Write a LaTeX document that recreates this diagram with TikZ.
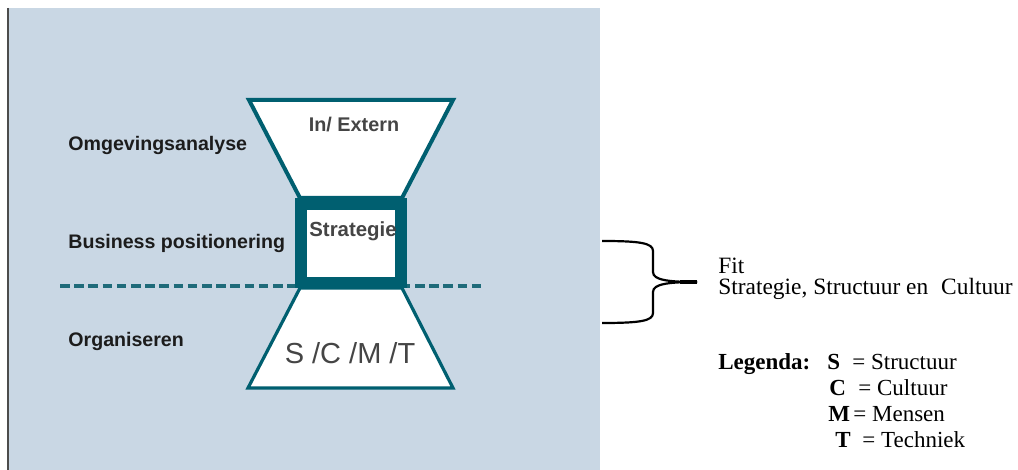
\documentclass[tikz,border=0pt]{standalone}
\usepackage{fontspec}
\setmainfont{Liberation Serif}
\newfontfamily\arialfont{Liberation Sans}
\definecolor{panelbg}{HTML}{C9D7E4}
\definecolor{tealA}{HTML}{005F70}
\definecolor{dashteal}{HTML}{1F6B7A}
\definecolor{txtgray}{HTML}{454545}
\definecolor{lbl}{HTML}{1C1C1C}
\begin{document}
\begin{tikzpicture}[x=0.5pt,y=-0.5pt,
  lefttxt/.style={anchor=west,inner sep=0pt,text=lbl,font=\arialfont\bfseries\fontsize{9.8}{11}\selectfont},
  shapetxt/.style={inner sep=0pt,text=txtgray,font=\arialfont\bfseries\fontsize{9.9}{11}\selectfont},
  serif/.style={anchor=base west,inner sep=0pt,font=\fontsize{11.7}{13}\selectfont},
  trap/.style={draw=tealA,fill=white,line join=miter},
  bracestyle/.style={draw=black,line width=1.1pt},
]
\useasboundingbox (0,0) rectangle (1018,470);
% panel
\fill[panelbg] (8,8) rectangle (600,470);
\draw[gray!60!black, line width=1.1pt] (8,8) -- (8,470);
% dashed separator
\coordinate (dl) at (60,286);
\coordinate (dr) at (482,286);
\draw[dashteal, line width=1.6pt, dash pattern=on 4.8pt off 2.3pt] (dl) -- (dr);
% hourglass
\draw[trap, line width=2pt] (249,100) -- (453,100) -- (402,198) -- (300,198) -- cycle;
\draw[trap, line width=1.6pt] (300,288) -- (402,288) -- (453,388) -- (248,388) -- cycle;
\draw[draw=tealA, fill=white, line width=5.8pt] (301,204) rectangle (401,282.5);
% texts in shapes
\node[shapetxt] (inex) at (354,125) {In/ Extern};
\node[shapetxt, font=\arialfont\bfseries\fontsize{10.2}{12}\selectfont] (strat) at (353,231) {Strategie};
\node[inner sep=0pt, text=txtgray, font=\arialfont\fontsize{14.5}{16}\selectfont] (scmt) at (350,353) {S /C /M /T};
% left labels
\node[lefttxt] (omg) at (68,145) {Omgevingsanalyse};
\node[lefttxt] (bus) at (68,243) {Business positionering};
\node[lefttxt] (org) at (68,341) {Organiseren};
% brace
\coordinate (bt) at (602,241);
\coordinate (bb) at (602,323);
\coordinate (tip) at (697,282);
\draw[bracestyle] (bt) .. controls (640,241) and (653,243) .. (653,251) -- (653,272)
  .. controls (653,280) and (668,282) .. (tip);
\draw[bracestyle] (bb) .. controls (640,323) and (653,321) .. (653,313) -- (653,292)
  .. controls (653,284) and (668,282) .. (tip);
\draw[line width=1.6pt] (680,282) -- (tip);
% fit text
\node[serif] (fit) at (718,274) {Fit};
\node[serif] (ssc) at (718,295) {Strategie, Structuur en\hspace{0.3em} Cultuur};
% legend
\node[serif, font=\bfseries\fontsize{11.5}{13}\selectfont] (leg) at (718,369.5) {Legenda:};
\node[serif, font=\bfseries\fontsize{11.5}{13}\selectfont] (ls) at (827,369.5) {S};
\node[serif, font=\fontsize{11.5}{13}\selectfont] (lst) at (852,369.5) {= Structuur};
\node[serif, font=\bfseries\fontsize{11.5}{13}\selectfont] (lc) at (829,395.5) {C};
\node[serif, font=\fontsize{11.5}{13}\selectfont] (lcu) at (858,395.5) {= Cultuur};
\node[serif, font=\bfseries\fontsize{11.5}{13}\selectfont] (lm) at (828,421.5) {M};
\node[serif, font=\fontsize{11.5}{13}\selectfont] (lme) at (853,421.5) {= Mensen};
\node[serif, font=\bfseries\fontsize{11.5}{13}\selectfont] (lt) at (835,447.5) {T};
\node[serif, font=\fontsize{11.5}{13}\selectfont] (lte) at (862,447.5) {= Techniek};
\end{tikzpicture}
\end{document}
